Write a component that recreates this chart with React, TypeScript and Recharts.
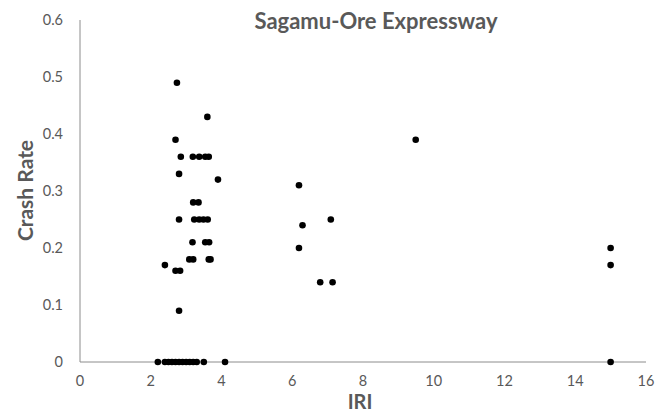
import React from 'react';
import { ScatterChart, Scatter, XAxis, YAxis } from 'recharts';

// IRI vs crash rate readings
const iri = [
    2.74, 3.6, 2.7, 2.85, 3.19, 3.37, 3.54, 3.64, 2.8, 3.9,
    3.2, 3.35, 2.8, 3.23, 3.37, 3.49, 3.61, 3.18, 3.54, 3.65,
    3.09, 3.2, 3.64, 3.69, 2.4, 2.7, 2.83, 2.8,
    2.2, 2.4, 2.5, 2.6, 2.7, 2.8, 2.9, 3.0, 3.1, 3.2, 3.3, 3.5, 4.1,
    6.19, 6.29, 7.09, 6.19, 6.79, 7.14, 9.49, 15, 15, 15,
];
const crashRate = [
    0.49, 0.43, 0.39, 0.36, 0.36, 0.36, 0.36, 0.36, 0.33, 0.32,
    0.28, 0.28, 0.25, 0.25, 0.25, 0.25, 0.25, 0.21, 0.21, 0.21,
    0.18, 0.18, 0.18, 0.18, 0.17, 0.16, 0.16, 0.09,
    0, 0, 0, 0, 0, 0, 0, 0, 0, 0, 0, 0, 0,
    0.31, 0.24, 0.25, 0.2, 0.14, 0.14, 0.39, 0.2, 0.17, 0,
];
const xTicks = [0, 2, 4, 6, 8, 10, 12, 14, 16];
const yTicks = [0, 0.1, 0.2, 0.3, 0.4, 0.5, 0.6];

const points = iri.map((x, i) => ({ x, y: crashRate[i] }));

const font = 'Lato, "Open Sans", sans-serif';
const grey = '#595959';

const App: React.FC = () => {
    return (
        <div style={{ position: 'absolute', left: 0, top: 0, width: 670, height: 417, background: '#fff', fontFamily: font, overflow: 'hidden' }}>
            <ScatterChart width={670} height={417} margin={{ top: 20, right: 24, bottom: 25, left: 30 }}>
                <XAxis
                    type="number"
                    dataKey="x"
                    domain={[0, 16]}
                    ticks={xTicks}
                    tickSize={0}
                    tickMargin={14}
                    height={30}
                    stroke="#8c8c8c"
                    tick={{ fill: grey, fontSize: 14.5, fontFamily: font }}
                />
                <YAxis
                    type="number"
                    dataKey="y"
                    domain={[0, 0.6]}
                    ticks={yTicks}
                    tickSize={0}
                    tickMargin={17}
                    width={50}
                    stroke="#8c8c8c"
                    tick={{ fill: grey, fontSize: 14.5, fontFamily: font }}
                />
                <Scatter data={points} fill="#000" isAnimationActive={false} shape={(p: any) => <circle cx={p.cx} cy={p.cy} r={3.3} fill="#000" />} />
            </ScatterChart>
            <div style={{ position: 'absolute', left: 226, width: 300, top: 7, textAlign: 'center', fontWeight: 700, fontSize: 22, lineHeight: '28px', color: grey }}>
                Sagamu-Ore Expressway
            </div>
            <div style={{ position: 'absolute', left: 310, width: 100, top: 389, textAlign: 'center', fontWeight: 700, fontSize: 20, lineHeight: '24px', color: grey }}>
                IRI
            </div>
            <div style={{ position: 'absolute', left: -36.5, width: 120, top: 177.5, textAlign: 'center', fontWeight: 700, fontSize: 21, color: grey, transform: 'rotate(-90deg)', lineHeight: '25px' }}>
                Crash Rate
            </div>
        </div>
    );
};

export default App;
